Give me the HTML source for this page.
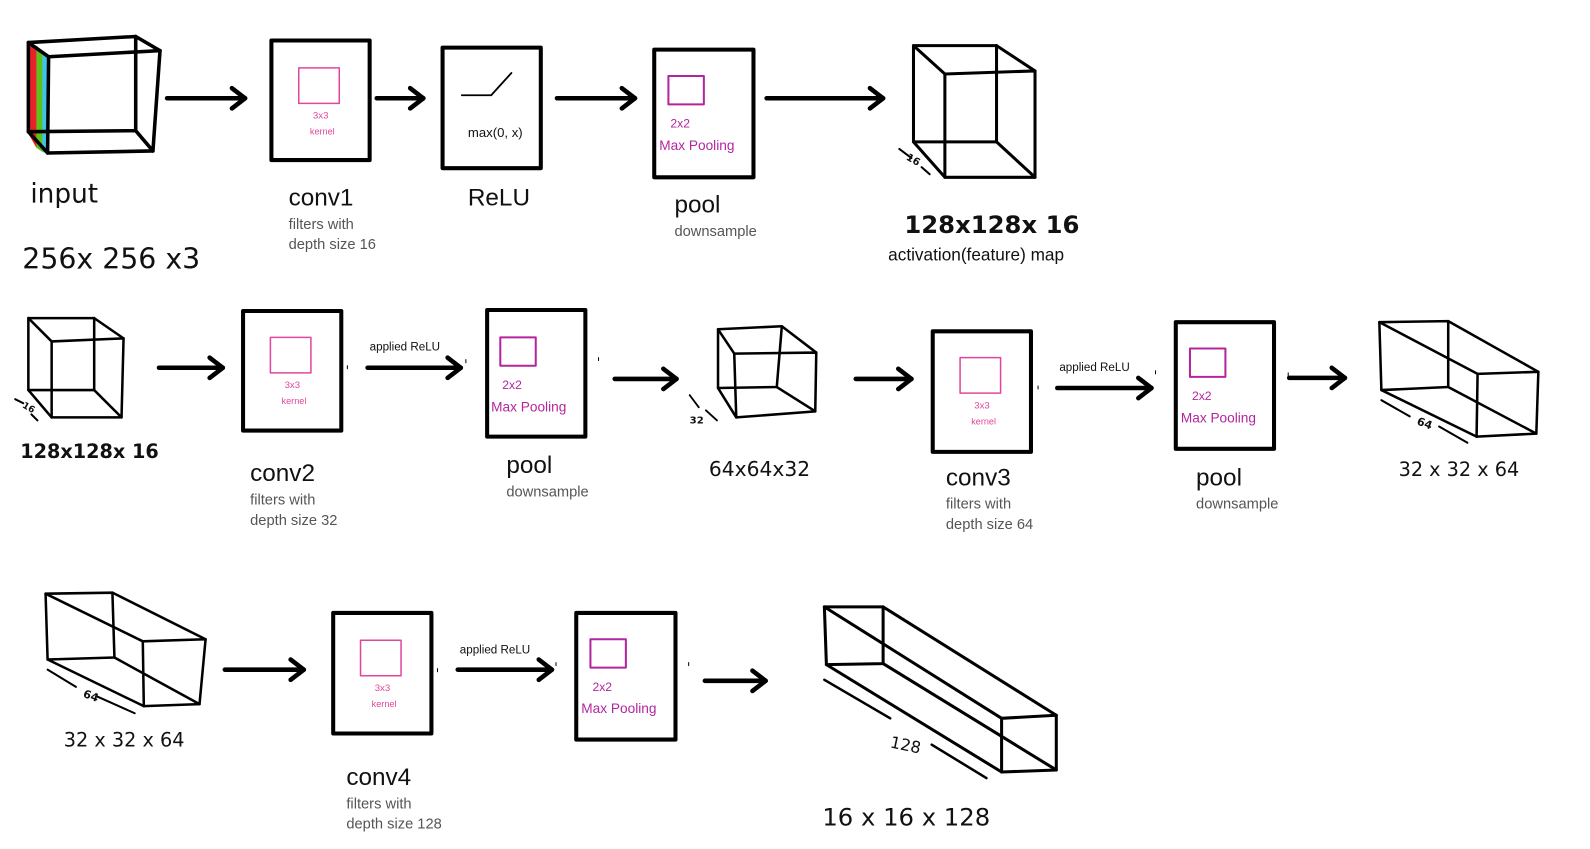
<!DOCTYPE html>
<html><head><meta charset="utf-8"><style>
html,body{margin:0;padding:0;background:#fff;width:1590px;height:849px;overflow:hidden;}
svg{display:block}
.t{font-family:"Liberation Sans","DejaVu Sans",sans-serif;}
.hand{font-family:"DejaVu Sans","Liberation Sans",sans-serif;fill:#111;}
.big{font-size:24px;fill:#111;}
.sub{font-size:14.5px;fill:#555;}
</style></head><body>
<svg id="s" width="1590" height="849" viewBox="0 0 1570 838" preserveAspectRatio="none" xmlns="http://www.w3.org/2000/svg">
<g id="g" fill="none" stroke="#000" stroke-linecap="round" stroke-linejoin="round"></g>
<text class="t hand" x="30" y="200" font-size="26">input</text>
<text class="t hand" x="22" y="265" font-size="28">256x 256 x3</text>
<text class="t big" x="285" y="203">conv1</text>
<text class="t sub" x="285" y="226">filters with</text>
<text class="t sub" x="285" y="246">depth size 16</text>
<text class="t big" x="462" y="203">ReLU</text>
<text class="t" x="462" y="135" font-size="13" fill="#111">max(0, x)</text>
<text class="t big" x="666" y="210">pool</text>
<text class="t sub" x="666" y="233">downsample</text>
<text class="t hand" x="893" y="230" font-size="24" font-weight="bold">128x128x 16</text>
<text class="t" x="877" y="257" font-size="17" fill="#111">activation(feature) map</text>
<text class="t hand" x="20" y="452" font-size="19" font-weight="bold">128x128x 16</text>
<text class="t big" x="247" y="475">conv2</text>
<text class="t sub" x="247" y="498">filters with</text>
<text class="t sub" x="247" y="518">depth size 32</text>
<text class="t" x="365" y="346" font-size="11.5" fill="#111">applied ReLU</text>
<text class="t big" x="500" y="467">pool</text>
<text class="t sub" x="500" y="490">downsample</text>
<text class="t hand" x="700" y="470" font-size="20">64x64x32</text>
<text class="t big" x="934" y="479">conv3</text>
<text class="t sub" x="934" y="502">filters with</text>
<text class="t sub" x="934" y="522">depth size 64</text>
<text class="t" x="1046" y="366" font-size="11.5" fill="#111">applied ReLU</text>
<text class="t big" x="1181" y="479">pool</text>
<text class="t sub" x="1181" y="502">downsample</text>
<text class="t hand" x="1381" y="470" font-size="19">32 x 32 x 64</text>
<text class="t hand" x="1399" y="421" font-size="11" font-weight="bold" transform="rotate(20 1405 418)">64</text>
<text class="t hand" x="63" y="737" font-size="19">32 x 32 x 64</text>
<text class="t hand" x="82" y="690" font-size="11" font-weight="bold" transform="rotate(20 88 687)">64</text>
<text class="t big" x="342" y="775">conv4</text>
<text class="t sub" x="342" y="798">filters with</text>
<text class="t sub" x="342" y="818">depth size 128</text>
<text class="t" x="454" y="645" font-size="11.5" fill="#111">applied ReLU</text>
<text class="t hand" x="879" y="740" font-size="16" transform="rotate(12 890 735)">128</text>
<text class="t hand" x="812" y="815" font-size="24">16 x 16 x 128</text>
<text class="t hand" x="895" y="160" font-size="10" font-weight="bold" transform="rotate(30 900 157)">16</text>
<text class="t hand" x="22" y="404" font-size="9" font-weight="bold" transform="rotate(30 26 402)">16</text>
<text class="t hand" x="681" y="418" font-size="10" font-weight="bold">32</text>
</svg>
<script>
const NS='http://www.w3.org/2000/svg';
const g=document.getElementById('g');
const svg=document.getElementById('s');
function mk(tag,attrs,name){const e=document.createElementNS(NS,tag);for(const k in attrs)e.setAttribute(k,attrs[k]);


g.appendChild(e);return e;}
function line(x1,y1,x2,y2,w,name){return mk('line',{x1,y1,x2,y2,'stroke-width':w},name);}
function poly(pts,w,name){return mk('polygon',{points:pts.map(p=>p.join(',')).join(' '),'stroke-width':w},name);}
function arrow(x1,x2,y,name){line(x1,y,x2,y,4.5,name);mk('polyline',{points:`${x2-13},${y-10} ${x2},${y} ${x2-13},${y+10}`,'stroke-width':4.5},name+'-head');}
function box(x,y,w,h,name){mk('rect',{x,y,width:w,height:h,'stroke-width':4},name);}
function txt(x,y,s,size,fill,name){const e=document.createElementNS(NS,'text');e.setAttribute('x',x);e.setAttribute('y',y);
e.setAttribute('font-size',size);e.setAttribute('fill',fill);e.setAttribute('class','t');e.textContent=s;


svg.appendChild(e);}
function kernel(x,y,name){mk('rect',{x,y,width:40,height:35,stroke:'#e0479c','stroke-width':1.5},name+'-kernel');
txt(x+14,y+50,'3x3',9.5,'#e0479c',name+'-kernel-size');txt(x+11,y+66,'kernel',9,'#e0479c',name+'-kernel-label');}
function poolk(x,y,name){mk('rect',{x,y,width:35,height:28,stroke:'#b3259f','stroke-width':2},name+'-window');
txt(x+2,y+51,'2x2',12,'#b3259f',name+'-window-size');txt(x-9,y+73,'Max Pooling',13.5,'#b3259f',name+'-window-label');}
function solid(b,f,w,name){poly(b,w,name+'-back');poly(f,w,name+'-front');for(let i=0;i<4;i++)line(b[i][0],b[i][1],f[i][0],f[i][1],w,name+'-edge');}
function tick(x,y){line(x,y,x,y+3,1,'tick-mark');}

// row 1
mk('polygon',{points:'28,44 36,45 36,146 28,132',fill:'#e8202a',stroke:'none'},'red-channel');
mk('polygon',{points:'36,45 42,50 42,150 36,146',fill:'#5cc21b',stroke:'none'},'green-channel');
mk('polygon',{points:'42,50 48,56 48,152 42,150',fill:'#3cc3f0',stroke:'none'},'blue-channel');
solid([[28,42],[134,36],[134,129],[28,130]],[[48,56],[158,50],[151,149],[47,151]],3.5,'input-cube');
arrow(165,242,97,'arrow-input-conv1');
box(268,40,97,118,'conv1-box');kernel(295,67,'conv1');
arrow(372,418,97,'arrow-conv1-relu');
box(437,47,97,119,'relu-box');
mk('polyline',{points:'456,94 485,94 505,72','stroke-width':1.8},'relu-curve');
arrow(550,627,97,'arrow-relu-pool1');
box(646,49,98,126,'pool1-box');poolk(660,75,'pool1');
arrow(757,872,97,'arrow-pool1-featuremap');
solid([[902,45],[984,45],[984,140],[902,140]],[[933,73],[1022,70],[1022,175],[933,175]],3,'feature-map-cube-1');
line(888,147,900,156,2,'dim-line');line(910,165,918,172,2,'dim-line');

// row 2
solid([[28,314],[93,314],[93,385],[28,385]],[[51,337],[122,334],[120,412],[51,412]],2.5,'row2-input-cube');
line(15,394,23,398,2,'dim-line');line(31,409,37,415,2,'dim-line');
arrow(157,220,363,'arrow-to-conv2');
box(240,307,97,118,'conv2-box');kernel(267,333,'conv2');tick(343,361);
arrow(363,455,363,'arrow-conv2-pool2');tick(460,355);
box(481,306,97,125,'pool2-box');poolk(494,333,'pool2');tick(591,353);
arrow(607,668,374,'arrow-pool2-featuremap');
solid([[709,325],[772,322],[767,382],[709,383]],[[725,349],[806,348],[805,406],[727,412]],2.5,'feature-map-cube-2');
line(681,390,690,402,1.8,'dim-line');line(697,405,708,415,1.8,'dim-line');
arrow(845,900,374,'arrow-to-conv3');
box(921,327,97,119,'conv3-box');kernel(948,353,'conv3');tick(1025,381);
arrow(1044,1137,383,'arrow-conv3-pool3');tick(1141,366);
box(1161,318,97,125,'pool3-box');poolk(1175,344,'pool3');tick(1272,368);
arrow(1273,1328,373,'arrow-pool3-featuremap');
solid([[1362,318],[1430,317],[1430,382],[1364,385]],[[1459,369],[1519,367],[1517,428],[1458,431]],2.5,'feature-map-prism-3');
line(1364,395,1392,411,2,'dim-line');line(1421,421,1449,437,2,'dim-line');

// row 3
solid([[45,586],[111,585],[113,649],[47,651]],[[141,633],[203,631],[197,695],[142,697]],2.5,'row3-input-prism');
line(47,661,75,678,2,'dim-line');line(95,687,133,704,2,'dim-line');
arrow(222,300,661,'arrow-to-conv4');
box(329,605,97,119,'conv4-box');kernel(356,632,'conv4');tick(432,660);
arrow(452,545,661,'arrow-conv4-pool4');tick(549,654);
box(569,605,98,125,'pool4-box');poolk(583,631,'pool4');tick(680,654);
arrow(696,756,672,'arrow-pool4-final');
solid([[814,599],[872,599],[872,655],[816,656]],[[989,709],[1043,706],[1043,760],[989,762]],3,'final-prism');
line(814,671,879,709,2.5,'dim-line');line(920,735,974,768,2.5,'dim-line');
</script>
</body></html>
